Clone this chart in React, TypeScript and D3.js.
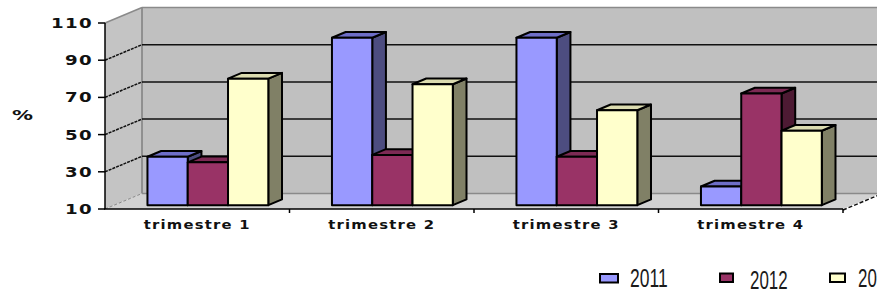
import React from "react";
import * as d3 from "d3";

// Data
const categories = ["trimestre 1", "trimestre 2", "trimestre 3", "trimestre 4"];
const seriesNames = ["2011", "2012", "20"];
const values2011 = [36, 100, 100, 20];
const values2012 = [33, 37, 36, 70];
const values2013 = [78, 75, 61, 50];
const yTicks = [10, 30, 50, 70, 90, 110];

const seriesValues = [values2011, values2012, values2013];

// face colours: front, top, side
const palette = [
  { front: "#9999ff", top: "#6e6ec8", side: "#4d4d80" },
  { front: "#993366", top: "#7d2a54", side: "#4d1a33" },
  { front: "#ffffcc", top: "#dcdcb0", side: "#808066" },
];

const width = 877;
const height = 293;

// 3D depth of the chart box
const depthX = 37;
const depthY = -15.5;
// bars sit between these fractions of the depth
const barFront = 0.25;
const barBack = 0.62;

const labelFont = "DejaVu Sans, Verdana, sans-serif";

const App: React.FC = () => {
  const x = d3.scaleBand<string>().domain(categories).range([105, 843]);
  const y = d3.scaleLinear().domain([10, 110]).range([209, 23]);
  const bw = x.bandwidth();
  const inner = d3
    .scaleBand<number>()
    .domain([0, 1, 2])
    .range([bw * 0.18, bw * 0.835]);

  const x0 = 105;
  const x1 = 843;
  const yb = y(10);
  const yt = y(110);

  const fx = barFront * depthX;
  const fy = barFront * depthY;
  const bx = (barBack - barFront) * depthX;
  const by = (barBack - barFront) * depthY;

  const pts = (p: [number, number][]) => p.map((d) => d.join(",")).join(" ");

  return (
    <svg width={width} height={height} style={{ position: "absolute", left: 0, top: 0 }}>
      <rect width={width} height={height} fill="#fff" />
      {/* back wall */}
      <rect x={x0 + depthX} y={yt + depthY} width={width - x0 - depthX} height={yb - yt} fill="#c0c0c0" />
      {/* left wall */}
      <polygon
        points={pts([
          [x0, yb],
          [x0, yt],
          [x0 + depthX, yt + depthY],
          [x0 + depthX, yb + depthY],
        ])}
        fill="#c4c4c4"
      />
      {/* floor */}
      <polygon
        points={pts([
          [x0, yb],
          [x1, yb],
          [x1 + depthX, yb + depthY],
          [x0 + depthX, yb + depthY],
        ])}
        fill="#d2d2d2"
      />
      {/* wall edges */}
      <line x1={x0 + depthX} x2={x0 + depthX} y1={yt + depthY} y2={yb + depthY} stroke="#7f7f7f" strokeWidth={1.5} />
      <line x1={x0 + depthX} x2={width} y1={yt + depthY} y2={yt + depthY} stroke="#8a8a8a" strokeWidth={1.5} />
      <line x1={x0} x2={x0 + depthX} y1={yt} y2={yt + depthY} stroke="#8a8a8a" strokeWidth={1.5} />
      <line x1={x0 + depthX} x2={x1 + depthX} y1={yb + depthY} y2={yb + depthY} stroke="#8a8a8a" strokeWidth={1.5} />
      {/* gridlines */}
      {yTicks
        .filter((t) => t !== 10 && t !== 110)
        .map((t) => (
          <g key={t}>
            <line x1={x0 + depthX} x2={width} y1={y(t) + depthY} y2={y(t) + depthY} stroke="#111" strokeWidth={1.5} />
            <line x1={x0} x2={x0 + depthX} y1={y(t)} y2={y(t) + depthY} stroke="#111" strokeWidth={1.5} strokeDasharray="3,1" />
          </g>
        ))}
      <line x1={x0} x2={x0 + depthX} y1={yb} y2={yb + depthY} stroke="#8a8a8a" strokeWidth={1} strokeDasharray="3,2" />
      {/* floor right edge */}
      <line x1={x1} x2={width} y1={yb + 1} y2={yb + 1 + (depthY * (width - x1)) / depthX} stroke="#111" strokeWidth={1.5} strokeDasharray="4,2" />

      {/* bars */}
      {categories.map((c, ci) =>
        seriesValues.map((vals, si) => {
          const left = (x(c) as number) + inner(si)! + fx;
          const right = left + inner.bandwidth();
          const top = y(vals[ci]) + fy;
          const bottom = yb + fy;
          const col = palette[si];
          return (
            <g key={c + si} stroke="#000" strokeWidth={2} strokeLinejoin="round">
              <polygon
                points={pts([
                  [right, top],
                  [right + bx, top + by],
                  [right + bx, bottom + by],
                  [right, bottom],
                ])}
                fill={col.side}
              />
              <polygon
                points={pts([
                  [left, top],
                  [left + bx, top + by],
                  [right + bx, top + by],
                  [right, top],
                ])}
                fill={col.top}
              />
              <rect x={left} y={top} width={right - left} height={bottom - top} fill={col.front} />
            </g>
          );
        })
      )}

      {/* axes */}
      <line x1={x0} x2={x0} y1={yt} y2={yb} stroke="#000" strokeWidth={1.5} />
      <line x1={x0 - 1} x2={x1} y1={yb} y2={yb} stroke="#000" strokeWidth={1.5} />
      {yTicks.map((t) => (
        <g key={t}>
          <line x1={x0 - 7} x2={x0} y1={y(t)} y2={y(t)} stroke="#000" strokeWidth={1.5} />
          <text
            x={93}
            y={y(t) + 5}
            textAnchor="end"
            fontFamily={labelFont}
            fontWeight="bold"
            fontSize={13.5}
            fill="#111"
            letterSpacing={1}
            textLength={String(t).length * 14}
            lengthAdjust="spacingAndGlyphs"
          >
            {t}
          </text>
        </g>
      ))}
      {categories.map((c) => (
        <g key={c}>
          <line x1={(x(c) as number) + bw} x2={(x(c) as number) + bw} y1={yb} y2={yb + 4} stroke="#000" strokeWidth={1.5} />
          <text
            x={(x(c) as number) + bw / 2}
            y={229}
            textAnchor="middle"
            fontFamily={labelFont}
            fontWeight="bold"
            fontSize={12}
            fill="#111"
            letterSpacing={1}
            textLength={107}
            lengthAdjust="spacingAndGlyphs"
          >
            {c}
          </text>
        </g>
      ))}
      <text x={12} y={120} fontFamily={labelFont} fontWeight="bold" fontSize={14} fill="#111" textLength={21} lengthAdjust="spacingAndGlyphs">
        %
      </text>

      {/* legend */}
      {seriesNames.map((s, i) => {
        const lx = [600, 720, 830][i];
        const ly = [274, 273.5, 273.5][i];
        const bwid = [18, 13, 15][i];
        const tx = [630, 750, 858][i];
        const ty = [287, 289, 287][i];
        return (
          <g key={s}>
            <rect x={lx} y={ly} width={bwid} height={8.5} fill={palette[i].front} stroke="#000" strokeWidth={2} />
            <text
              transform={`translate(${tx},${ty}) scale(1,1.27)`}
              fontFamily="Liberation Sans Narrow, Arial Narrow, sans-serif"
              fontSize={21}
              fill="#1a1a1a"
              textLength={s.length * 9.4}
              lengthAdjust="spacingAndGlyphs"
            >
              {s}
            </text>
          </g>
        );
      })}
    </svg>
  );
};

export default App;
